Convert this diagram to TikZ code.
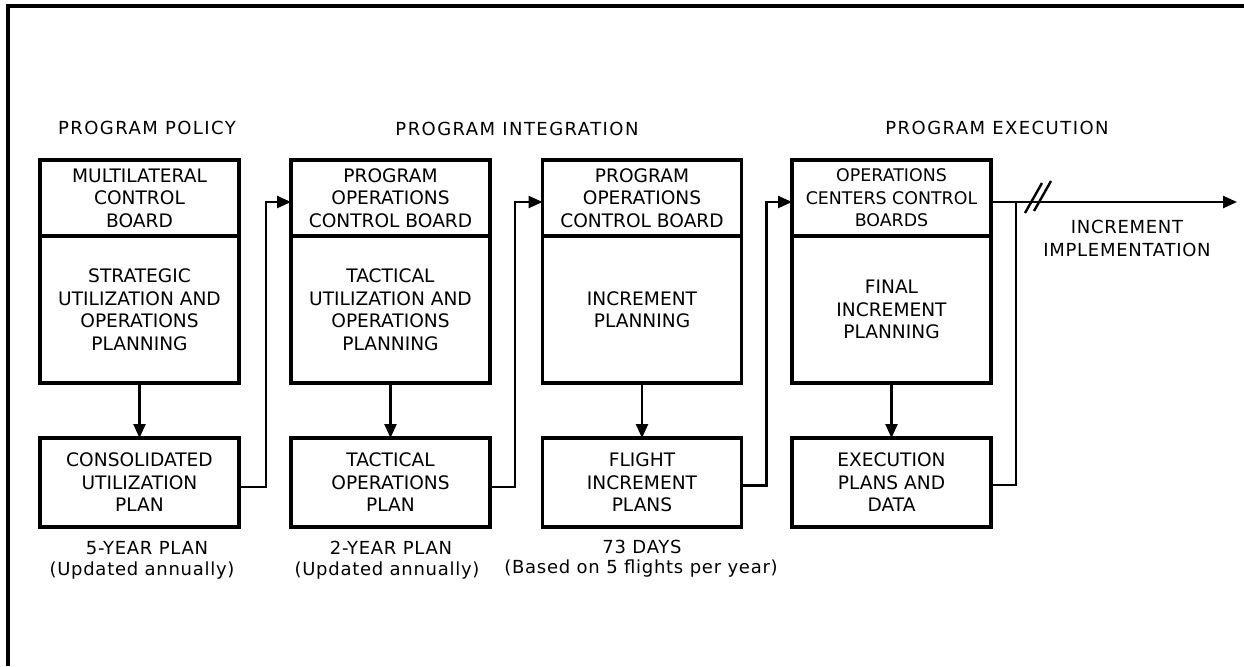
\documentclass[tikz,border=0pt]{standalone}
\usepackage{fontspec}
\setmainfont{DejaVu Sans}
\newfontfamily\lblfont{DejaVu Sans}[LetterSpace=4]
\newfontfamily\headfont{DejaVu Sans}[LetterSpace=8]
\usetikzlibrary{arrows.meta}
\begin{document}
\begin{tikzpicture}[x=0.5pt,y=-0.5pt,
  every node/.style={font=\fontsize{9.3}{11.25}\selectfont, align=center, inner sep=0pt, outer sep=0pt},
  sect/.style={draw, line width=1.8pt, minimum width=99.5pt},
  topsec/.style={sect, minimum height=38pt},
  midsec/.style={sect, minimum height=73.5pt},
  botbox/.style={sect, minimum height=44.5pt},
  head/.style={font=\headfont\fontsize{9}{11.25}\selectfont},
  lbl/.style={font=\lblfont\fontsize{9}{11.25}\selectfont},
  conn/.style={line width=1.2pt},
  arr/.style={conn, -{Triangle[length=7pt,width=6pt]}}
]
\useasboundingbox (0,0) rectangle (1244,666);
% frame
\draw[line width=1.6pt] (8,666) -- (8,6) -- (1244,6);
% headings
\node[head] (h1) at (147,128) {PROGRAM POLICY};
\node[head] (h2) at (517,129) {PROGRAM INTEGRATION};
\node[head] (h3) at (997,128) {PROGRAM EXECUTION};
% column 1
\node[topsec] (b1t) at (139.5,198) {MULTILATERAL\\CONTROL\\BOARD};
\node[midsec] (b1m) at (139.5,309.5) {STRATEGIC\\UTILIZATION AND\\OPERATIONS\\PLANNING};
\node[botbox] (b1b) at (139.5,482.5) {CONSOLIDATED\\UTILIZATION\\PLAN};
% column 2
\node[topsec] (b2t) at (390.5,198) {PROGRAM\\OPERATIONS\\CONTROL BOARD};
\node[midsec] (b2m) at (390.5,309.5) {TACTICAL\\UTILIZATION AND\\OPERATIONS\\PLANNING};
\node[botbox] (b2b) at (390.5,482.5) {TACTICAL\\OPERATIONS\\PLAN};
% column 3
\node[topsec] (b3t) at (642,198) {PROGRAM\\OPERATIONS\\CONTROL BOARD};
\node[midsec] (b3m) at (642,309.5) {INCREMENT\\PLANNING};
\node[botbox] (b3b) at (642,482.5) {FLIGHT\\INCREMENT\\PLANS};
% column 4
\node[topsec, font=\fontsize{8.7}{11.25}\selectfont] (b4t) at (891.5,198) {OPERATIONS\\CENTERS CONTROL\\BOARDS};
\node[midsec] (b4m) at (891.5,309.5) {FINAL\\INCREMENT\\PLANNING};
\node[botbox] (b4b) at (891.5,482.5) {EXECUTION\\PLANS AND\\DATA};
% notes
\node[lbl] (n1a) at (147,548) {5-YEAR PLAN};
\node[lbl] (n1b) at (142,571) {(Updated annually)};
\node[lbl] (n2a) at (391,548) {2-YEAR PLAN};
\node[lbl] (n2b) at (387,571) {(Updated annually)};
\node[lbl] (n3a) at (642,547) {73 DAYS};
\node[lbl] (n3b) at (641,569) {(Based on 5 flights per year)};
\node[lbl] (impl) at (1127,238.5) {INCREMENT\\IMPLEMENTATION};
% vertical arrows
\draw[arr] (b1m.south) -- (b1b.north);
\draw[arr] (b2m.south) -- (b2b.north);
\draw[arr] (b3m.south) -- (b3b.north);
\draw[arr] (b4m.south) -- (b4b.north);
% feed-forward loops
\draw[arr] ([yshift=-2.25pt]b1b.east) -- ++(27,0) |- ([yshift=-2pt]b2t.west);
\draw[arr] ([yshift=-2.25pt]b2b.east) -- ++(25,0) |- ([yshift=-2pt]b3t.west);
\draw[arr] ([yshift=-1.5pt]b3b.east) -- ++(25,0) |- ([yshift=-2pt]b4t.west);
% output
\coordinate (tip) at (1237,202);
\coordinate (joint) at (1016,202);
\draw[arr] ([yshift=-2pt]b4t.east) -- (tip);
\draw[conn] ([yshift=-1.25pt]b4b.east) -| (joint);
\draw[conn] (1025,213) -- (1042,183);
\draw[conn] (1034,211) -- (1051,181);
\end{tikzpicture}
\end{document}
